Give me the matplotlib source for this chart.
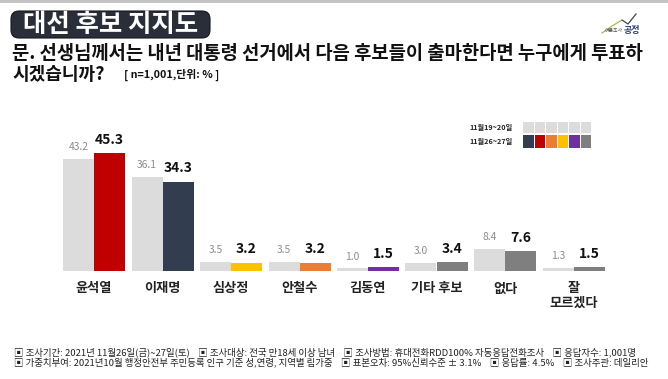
import matplotlib
matplotlib.use("Agg")
import matplotlib.pyplot as plt
from matplotlib.patches import FancyBboxPatch, Rectangle
from matplotlib.lines import Line2D

plt.rcParams['font.family'] = ['Noto Sans CJK KR', 'DejaVu Sans']

# ---- data ----
categories = ['윤석열', '이재명', '심상정', '안철수', '김동연', '기타 후보', '없다', '잘\n모르겠다']
prev_values = [43.2, 36.1, 3.5, 3.5, 1.0, 3.0, 8.4, 1.3]
curr_values = [45.3, 34.3, 3.2, 3.2, 1.5, 3.4, 7.6, 1.5]
curr_colors = ['#C00000', '#323E4F', '#FFC000', '#ED7D31', '#7030A0', '#7F7F7F', '#7F7F7F', '#7F7F7F']
prev_color = '#DCDCDC'
legend_labels = ['11월19~20일', '11월26~27일']
legend_colors = ['#323E4F', '#C00000', '#ED7D31', '#FFC000', '#7030A0', '#7F7F7F']

title = '대선 후보 지지도'
question1 = '문. 선생님께서는 내년 대통령 선거에서 다음 후보들이 출마한다면 누구에게 투표하'
question2 = '시겠습니까?'
sample_note = '[ n=1,001,단위: % ]'
footer1 = ('▣ 조사기간: 2021년 11월26일(금)~27일(토)    ▣ 조사대상: 전국 만18세 이상 남녀    '
           '▣ 조사방법: 휴대전화RDD100% 자동응답전화조사    ▣ 응답자수: 1,001명')
footer2 = ('▣ 가중치부여: 2021년10월 행정안전부 주민등록 인구 기준 성,연령, 지역별 림가중    '
           '▣ 표본오차: 95%신뢰수준 ± 3.1%    ▣ 응답률: 4.5%    ▣ 조사주관: 데일리안')

W, H = 668, 379
fig = plt.figure(figsize=(W / 100, H / 100), dpi=100)
fig.patch.set_facecolor('white')


def P(x, y):
    return (x / W, 1 - y / H)


def fbox(x0, y0, x1, y1):
    return [x0 / W, 1 - y1 / H, (x1 - x0) / W, (y1 - y0) / H]


# top grey strip
fig.patches.append(Rectangle(P(0, 3), 1, 3 / H, transform=fig.transFigure,
                             facecolor='#C4C4C4', edgecolor='none'))

# title box
tb = FancyBboxPatch(P(11, 38), 199 / W, 27 / H, transform=fig.transFigure,
                    boxstyle='round,pad=0,rounding_size=0.012',
                    facecolor='#2A2E39', edgecolor='#15171c', linewidth=0.8, mutation_aspect=1.76)
fig.patches.append(tb)
fig.text(*P(111, 24.5), title, color='white', fontsize=18.3, fontweight='bold',
         ha='center', va='center')

# logo
fig.lines.append(Line2D([602 / W, 612 / W, 622 / W, 628 / W, 636 / W],
                        [1 - 33 / H, 1 - 26 / H, 1 - 20 / H, 1 - 24 / H, 1 - 14 / H],
                        transform=fig.transFigure, color='#9DB53A', linewidth=0.8))
fig.lines.append(Line2D([622 / W, 628 / W, 636 / W], [1 - 20 / H, 1 - 24 / H, 1 - 14 / H],
                        transform=fig.transFigure, color='#3B4A7A', linewidth=0.8))
fig.text(*P(623, 31), '여론조사', fontsize=3.5, color='#555555', ha='right', va='center')
fig.text(*P(624, 31), '공정', fontsize=6.5, fontweight='bold', color='#2E3D7A', ha='left', va='center')

# question
fig.text(*P(12, 53.5), question1, fontsize=13.5, fontweight='bold', color='#111111',
         ha='left', va='center')
fig.text(*P(12, 74.5), question2, fontsize=13.0, fontweight='bold', color='#111111',
         ha='left', va='center')
fig.text(*P(124, 75), sample_note, fontsize=7.8, fontweight='bold', color='#111111',
         ha='left', va='center')

# chart axes
ax_x0, ax_x1 = 40, 628
ax_y0, ax_y1 = 140, 271
px_per_unit_x = 68.5
first_center = 94
px_per_unit_y = 2.6
ax = fig.add_axes(fbox(ax_x0, ax_y0, ax_x1, ax_y1))
ax.set_xlim(-(first_center - ax_x0) / px_per_unit_x, (ax_x1 - first_center) / px_per_unit_x)
ax.set_ylim(0, (ax_y1 - ax_y0) / px_per_unit_y)
ax.axis('off')

bw = 31 / px_per_unit_x
idx = list(range(len(categories)))
ax.bar([i - bw / 2 for i in idx], prev_values, width=bw, color=prev_color, edgecolor='none')
ax.bar([i + bw / 2 for i in idx], curr_values, width=bw, color=curr_colors, edgecolor='none')

for i, (pv, cv) in enumerate(zip(prev_values, curr_values)):
    ax.annotate(f'{pv:.1f}', (i - bw / 2, pv), xytext=(0, 8.5), textcoords='offset points',
                ha='center', va='center', fontsize=7.4, color='#8C8C8C', annotation_clip=False)
    ax.annotate(f'{cv:.1f}', (i + bw / 2, cv), xytext=(0, 9.7), textcoords='offset points',
                ha='center', va='center', fontsize=10, fontweight='bold', color='#111111',
                annotation_clip=False)
    ax.annotate(categories[i], (i, 0), xytext=(0, -7.5), textcoords='offset points',
                ha='center', va='top', fontsize=9.5, fontweight='bold', color='#222222',
                linespacing=1.05, annotation_clip=False)

# legend
fig.text(*P(513, 127.5), legend_labels[0], fontsize=5.2, fontweight='bold', color='#222222',
         ha='right', va='center')
fig.text(*P(513, 141.5), legend_labels[1], fontsize=5.2, fontweight='bold', color='#222222',
         ha='right', va='center')
sq = 11.5
for k, c in enumerate(legend_colors):
    x0 = 523 + k * sq
    fig.patches.append(Rectangle(P(x0, 133.3), (sq - 1) / W, 11.6 / H, transform=fig.transFigure,
                                 facecolor=prev_color, edgecolor='none'))
    fig.patches.append(Rectangle(P(x0, 147.7), (sq - 1) / W, 12.7 / H, transform=fig.transFigure,
                                 facecolor=c, edgecolor='none'))

# footer
fig.text(*P(14, 352.5), footer1, fontsize=6.8, color='#222222', ha='left', va='center')
fig.text(*P(14, 362), footer2, fontsize=6.8, color='#222222', ha='left', va='center')

fig.savefig('out.png', dpi=100, facecolor='white')
